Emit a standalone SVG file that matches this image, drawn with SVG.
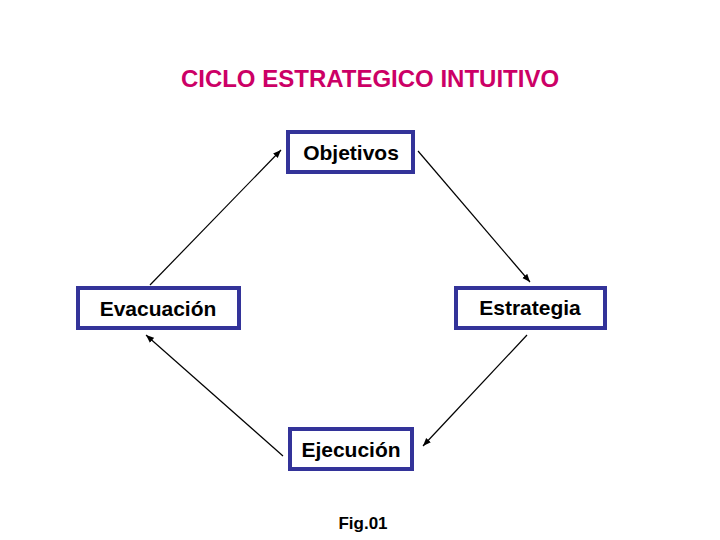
<svg xmlns="http://www.w3.org/2000/svg" width="720" height="540" viewBox="0 0 720 540">
<style>
.box{fill:#fff;stroke:#333399;stroke-width:4}
.lbl{font-family:"Liberation Sans",Arial,sans-serif;font-size:21px;font-weight:bold;fill:#000;text-anchor:middle}
.con{stroke:#000;stroke-width:1.2;fill:none;marker-end:url(#ah)}
</style>
<defs><marker id="ah" viewBox="0 0 10 10" refX="10" refY="5" markerWidth="8" markerHeight="8" orient="auto" markerUnits="userSpaceOnUse"><path d="M0,1 L10,5 L0,9 Z" fill="#000"/></marker></defs>
<rect width="720" height="540" fill="#fff"/>
<text x="370" y="87" font-family="'Liberation Sans',Arial,sans-serif" font-size="24" font-weight="bold" fill="#cc0066" text-anchor="middle">CICLO ESTRATEGICO INTUITIVO</text>
<g id="connectors">
<line class="con" x1="150" y1="285" x2="281" y2="150"/>
<line class="con" x1="418" y1="151" x2="530" y2="282"/>
<line class="con" x1="527" y1="335" x2="423" y2="446"/>
<line class="con" x1="283" y1="456" x2="146" y2="335"/>
</g>
<g id="objetivos"><rect class="box" x="288" y="132" width="125" height="40"/><text class="lbl" x="351" y="160">Objetivos</text></g>
<g id="evacuacion"><rect class="box" x="78" y="288" width="161" height="40"/><text class="lbl" x="158" y="316">Evacuación</text></g>
<g id="estrategia"><rect class="box" x="456" y="288" width="149" height="40"/><text class="lbl" x="530" y="315">Estrategia</text></g>
<g id="ejecucion"><rect class="box" x="290" y="429" width="122" height="40"/><text class="lbl" x="351" y="457">Ejecución</text></g>
<text x="363" y="529" font-family="'Liberation Sans',Arial,sans-serif" font-size="17" font-weight="bold" fill="#000" text-anchor="middle">Fig.01</text>
</svg>
